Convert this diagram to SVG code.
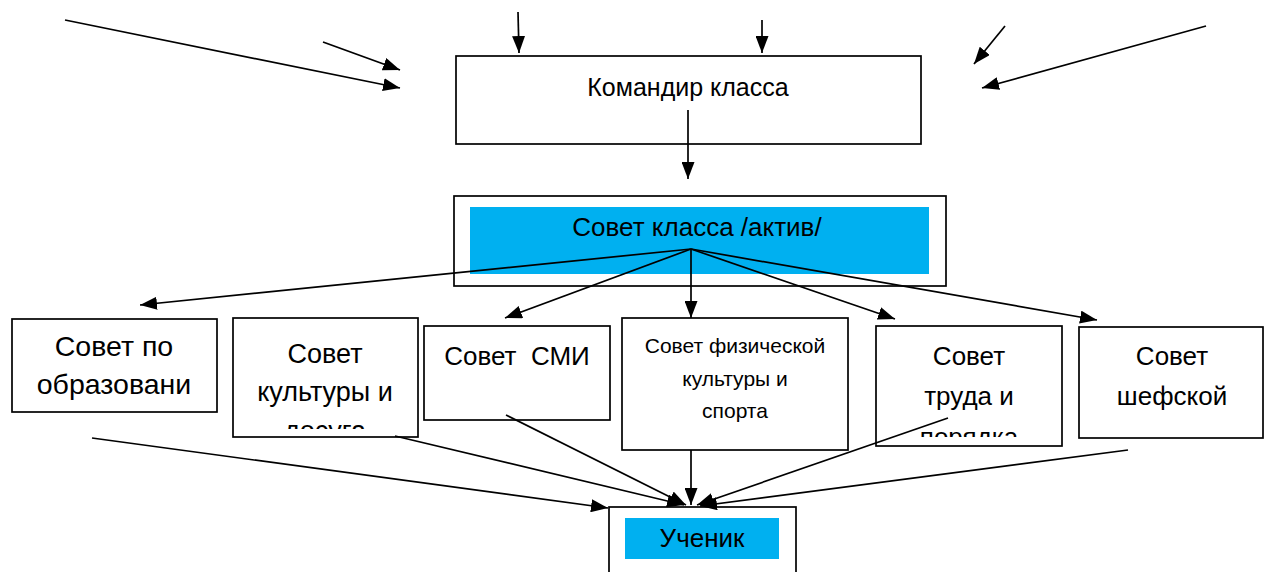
<svg xmlns="http://www.w3.org/2000/svg" width="1266" height="572" viewBox="0 0 1266 572">
<style>
.box{fill:#fff;stroke:#000;stroke-width:1.7}
.hl{fill:#00B0F0}
.t{font-family:"Liberation Sans",Arial,sans-serif;font-size:26px;fill:#000;text-anchor:middle}
.c line{stroke:#000;stroke-width:1.7;marker-end:url(#ah)}
</style>
<defs>
<marker id="ah" viewBox="0 0 17 13" refX="17" refY="6.5" markerWidth="17" markerHeight="13" markerUnits="userSpaceOnUse" orient="auto">
<path d="M0,0 L17,6.5 L0,13 z" fill="#000"/>
</marker>
<clipPath id="clip2"><rect x="233" y="318" width="186" height="111"/></clipPath>
<clipPath id="clip5"><rect x="876" y="326" width="187" height="111"/></clipPath>
</defs>
<g id="commander">
<rect class="box" x="456" y="56" width="465" height="88"/>
<text class="t" x="688" y="96" style="font-size:25px">Командир класса</text>
</g>
<g id="council">
<rect class="box" x="454" y="196" width="492" height="90"/>
<rect class="hl" x="470" y="207" width="459" height="67"/>
<text class="t" x="697" y="236">Совет класса /актив/</text>
</g>
<g id="edu">
<rect class="box" x="12" y="319" width="205" height="93"/>
<text class="t" x="114" y="356" style="font-size:28.5px">Совет по</text>
<text class="t" x="114" y="394" style="font-size:28.5px">образовани</text>
</g>
<g id="culture">
<rect class="box" x="233" y="318" width="185" height="119"/>
<g clip-path="url(#clip2)">
<text class="t" x="325" y="363" style="font-size:27px">Совет</text>
<text class="t" x="325" y="401" style="font-size:27px">культуры и</text>
<text class="t" x="325" y="440" style="font-size:27px">досуга</text>
</g>
</g>
<g id="smi">
<rect class="box" x="424" y="326" width="186" height="94"/>
<text class="t" x="517" y="365" xml:space="preserve">Совет  СМИ</text>
</g>
<g id="sport">
<rect class="box" x="622" y="318" width="226" height="132"/>
<text class="t" x="735" y="353" style="font-size:21px">Совет физической</text>
<text class="t" x="735" y="386" style="font-size:21px">культуры и</text>
<text class="t" x="735" y="418" style="font-size:21px">спорта</text>
</g>
<g id="labour">
<rect class="box" x="876" y="326" width="186" height="120"/>
<g clip-path="url(#clip5)">
<text class="t" x="969" y="365">Совет</text>
<text class="t" x="969" y="405">труда и</text>
<text class="t" x="969" y="446">порядка</text>
</g>
</g>
<g id="patron">
<rect class="box" x="1079" y="327" width="184" height="111"/>
<text class="t" x="1172" y="365">Совет</text>
<text class="t" x="1172" y="405">шефской</text>
</g>
<g id="pupil">
<rect class="box" x="609" y="507" width="187" height="80"/>
<rect class="hl" x="625" y="518" width="154" height="41"/>
<text class="t" x="702" y="547">Ученик</text>
</g>
<g id="connectors" class="c">
<line x1="65" y1="20" x2="400" y2="88"/>
<line x1="323" y1="42" x2="400" y2="70"/>
<line x1="518" y1="12" x2="519" y2="53"/>
<line x1="762" y1="20" x2="762" y2="53"/>
<line x1="1005" y1="26" x2="974" y2="64"/>
<line x1="1206" y1="26" x2="982" y2="88"/>
<line x1="688" y1="110" x2="688" y2="179"/>
<line x1="691" y1="249" x2="140" y2="305"/>
<line x1="691" y1="249" x2="505" y2="318"/>
<line x1="691" y1="249" x2="691" y2="318"/>
<line x1="691" y1="249" x2="895" y2="319"/>
<line x1="691" y1="249" x2="1097" y2="320"/>
<line x1="92" y1="438" x2="608" y2="508"/>
<line x1="395" y1="436" x2="684" y2="505"/>
<line x1="506" y1="415" x2="686" y2="505"/>
<line x1="691" y1="450" x2="691" y2="505"/>
<line x1="948" y1="418" x2="697" y2="505"/>
<line x1="1128" y1="450" x2="700" y2="506"/>
</g>
</svg>
